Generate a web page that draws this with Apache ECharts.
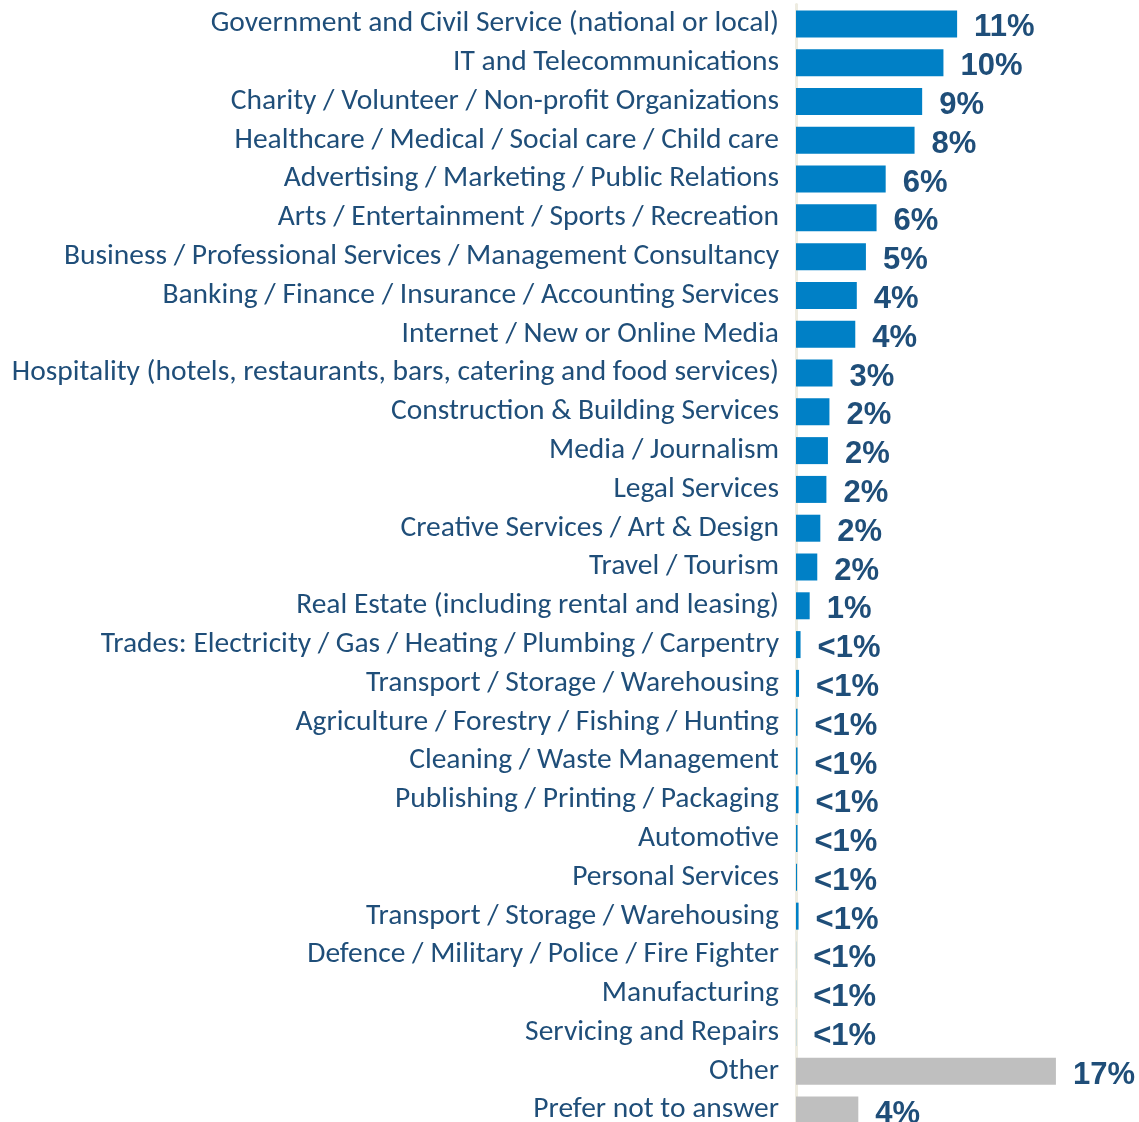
<!DOCTYPE html>
<html>
<head>
<meta charset="utf-8">
<script src="https://cdn.jsdelivr.net/npm/echarts@6/dist/echarts.min.js"></script>
<style>
  html, body { margin: 0; padding: 0; background: #fff; }
  #chart { width: 1139px; height: 1122px; }
</style>
</head>
<body>
<div id="chart"></div>
<script>
// sectors, top to bottom (second "Transport" row kept unique with a trailing space)
var sectors = [
  "Government and Civil Service (national or local)",
  "IT and Telecommunications",
  "Charity / Volunteer / Non-profit Organizations",
  "Healthcare / Medical / Social care / Child care",
  "Advertising / Marketing / Public Relations",
  "Arts / Entertainment / Sports / Recreation",
  "Business / Professional Services / Management Consultancy",
  "Banking / Finance / Insurance / Accounting Services",
  "Internet / New or Online Media",
  "Hospitality (hotels, restaurants, bars, catering and food services)",
  "Construction & Building Services",
  "Media / Journalism",
  "Legal Services",
  "Creative Services / Art & Design",
  "Travel / Tourism",
  "Real Estate (including rental and leasing)",
  "Trades: Electricity / Gas / Heating / Plumbing / Carpentry",
  "Transport / Storage / Warehousing",
  "Agriculture / Forestry / Fishing / Hunting",
  "Cleaning / Waste Management",
  "Publishing / Printing / Packaging",
  "Automotive",
  "Personal Services",
  "Transport / Storage / Warehousing ",
  "Defence / Military / Police / Fire Fighter",
  "Manufacturing",
  "Servicing and Repairs",
  "Other",
  "Prefer not to answer"
];

// share in %
var shares = [
  10.6, 9.7, 8.3, 7.8, 5.9, 5.3, 4.6, 4.0, 3.9, 2.4,
  2.2, 2.1, 2.0, 1.6, 1.4, 0.9, 0.3, 0.2, 0.1, 0.1,
  0.17, 0.1, 0.07, 0.17, 0.01, 0.01, 0.01, 17.1, 4.1
];

// printed value labels
var shareLabels = [
  "11%", "10%", "9%", "8%", "6%", "6%", "5%", "4%", "4%", "3%",
  "2%", "2%", "2%", "2%", "2%", "1%", "<1%", "<1%", "<1%", "<1%",
  "<1%", "<1%", "<1%", "<1%", "<1%", "<1%", "<1%", "17%", "4%"
];

var greySectors = ["Other", "Prefer not to answer"];

var chart = echarts.init(document.getElementById("chart"));

var option = {
  animation: false,
  backgroundColor: "#fff",
  grid: {
    left: 796,
    width: 304,
    top: 4.5,
    height: 1125,
    outerBoundsMode: "none"
  },
  xAxis: {
    type: "value",
    min: 0,
    max: 20,
    show: false
  },
  yAxis: {
    type: "category",
    inverse: true,
    data: sectors,
    axisLine: { show: true, lineStyle: { color: "#EEECE1", width: 3 } },
    axisTick: { show: false },
    splitLine: { show: false },
    axisLabel: {
      interval: 0,
      margin: 17,
      color: "#1F4E79",
      fontSize: 29.5,
      padding: [2, 0, 0, 0],
      fontFamily: "Carlito, Calibri, 'Open Sans', sans-serif",
      formatter: function (v) {
        return v.trim();
      }
    }
  },
  series: [
    {
      type: "bar",
      barWidth: 27,
      data: shares.map(function (v, i) {
        return {
          value: v,
          itemStyle: {
            color: greySectors.indexOf(sectors[i]) >= 0 ? "#BFBFBF" : "#0080C6"
          }
        };
      }),
      label: {
        show: true,
        position: "right",
        distance: 17,
        offset: [0, 4],
        color: "#1F4E79",
        fontSize: 31,
        fontWeight: "bold",
        fontFamily: "'Liberation Sans', Arial, sans-serif",
        formatter: function (p) {
          return shareLabels[p.dataIndex];
        }
      }
    }
  ]
};

option && chart.setOption(option);
</script>
</body>
</html>
